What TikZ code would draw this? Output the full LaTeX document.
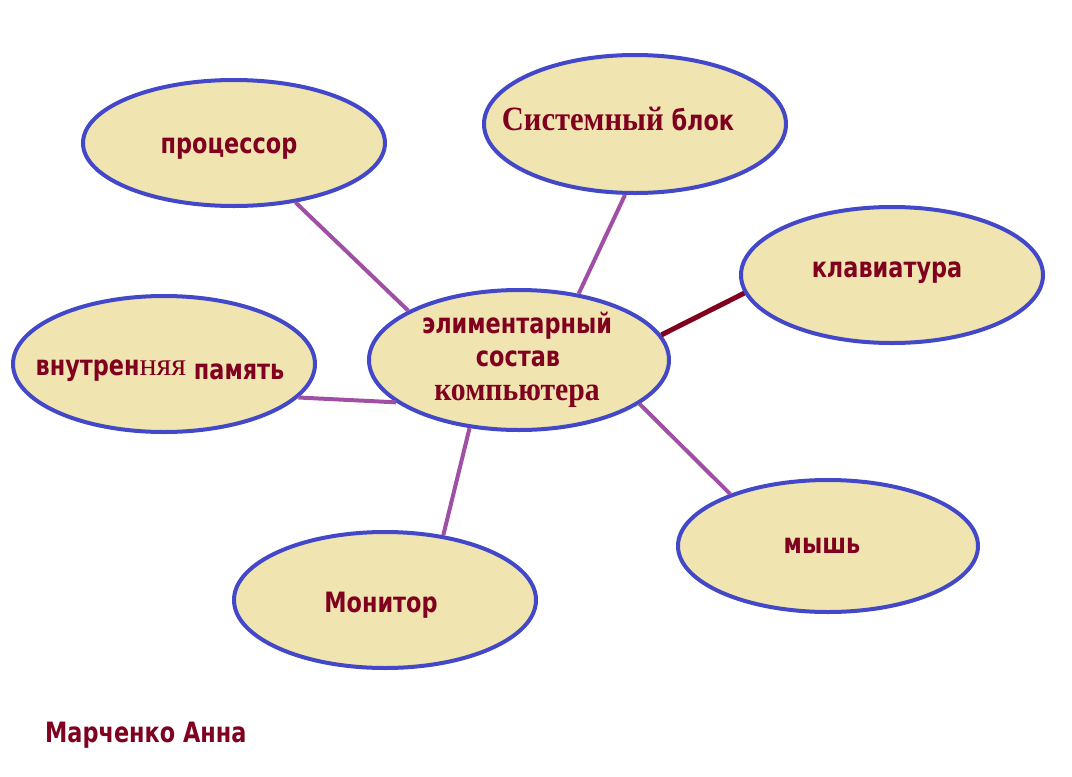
\documentclass[tikz,border=0pt]{standalone}
\usepackage{fontspec}
\setmainfont{Liberation Serif}
\newfontfamily\sansb{DejaVu Sans Bold}[FakeStretch=0.8]
\newfontfamily\serifb{Liberation Serif Bold}[FakeStretch=0.9]
\usetikzlibrary{shapes.geometric}
\definecolor{ovfill}{RGB}{240,228,176}
\definecolor{ovline}{RGB}{66,72,200}
\definecolor{lnpurple}{RGB}{160,80,164}
\definecolor{lnred}{RGB}{128,0,32}
\definecolor{txt}{RGB}{128,0,32}
\tikzset{
  oval/.style={ellipse, draw=ovline, fill=ovfill, line width=4pt, inner sep=0pt},
  lbl/.style={text=txt, font=\sansb\fontsize{28}{30}\selectfont, inner sep=0pt, anchor=base},
  serlbl/.style={text=txt, font=\serifb\fontsize{33}{35}\selectfont, inner sep=0pt, anchor=base},
  link/.style={draw=lnpurple, line width=4pt},
  linkred/.style={draw=lnred, line width=5pt}
}
\begin{document}
\begin{tikzpicture}[x=1pt,y=-1pt]
\useasboundingbox (0,0) rectangle (1072,777);
\node[oval, minimum width=302pt, minimum height=126pt] (proc) at (234,143) {};
\node[oval, minimum width=302pt, minimum height=138pt] (sys) at (635,124) {};
\node[oval, minimum width=302pt, minimum height=136pt] (kbd) at (892,275) {};
\node[oval, minimum width=302pt, minimum height=136pt] (mem) at (164,364) {};
\node[oval, minimum width=300pt, minimum height=140pt] (ctr) at (519,360) {};
\node[oval, minimum width=300pt, minimum height=132pt] (mouse) at (828,546) {};
\node[oval, minimum width=302pt, minimum height=136pt] (mon) at (385,600) {};

\draw[link] (proc.-44) -- (ctr.156.6);
\draw[link] (sys.262.5) -- (ctr.48.4);
\draw[linkred] (kbd.187.1) -- (ctr.10.8);
\draw[link] (mem.-14.1) -- (ctr.199);
\draw[link] (mon.48.9) -- (ctr.234.7);
\draw[link] (mouse.152.8) -- (ctr.-20.4);

\node[lbl] (tproc) at (229,153) {процессор};
\node[lbl] (tsys) at (618,130) {{\serifb\fontsize{34}{36}\selectfont Системный} блок};
\node[lbl] (tkbd) at (887,277) {клавиатура};
\node[lbl] (tmem) at (160,375) {внутрен{\rmfamily\fontsize{32}{34}\selectfont няя} \raisebox{-4pt}{память}};
\node[lbl] (tc1) at (517,333) {элиментарный};
\node[lbl, text depth=0pt] (tc2) at (518,366) {состав};
\node[serlbl, text height=16pt] (tc3) at (517,400) {компьютера};
\node[lbl] (tmouse) at (822,553) {мышь};
\node[lbl] (tmon) at (381,612) {Монитор};
\node[lbl, anchor=base west] (author) at (45,742) {Марченко Анна};
\end{tikzpicture}
\end{document}
